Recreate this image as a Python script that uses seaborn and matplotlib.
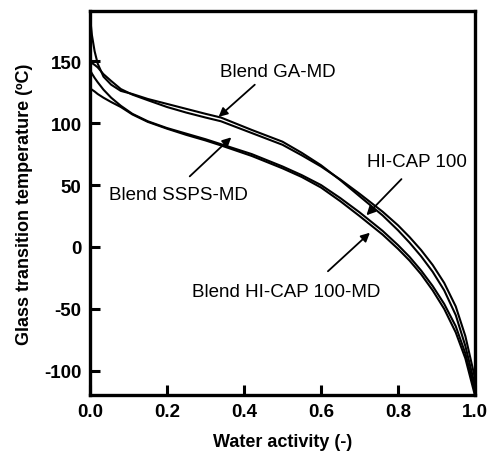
import matplotlib
matplotlib.use("Agg")
import matplotlib.pyplot as plt
import seaborn as sns
import pandas as pd

# Water activity values (shared x grid)
aw = [0, 0.005, 0.012, 0.02, 0.035, 0.055, 0.08, 0.11, 0.15, 0.2, 0.25, 0.3, 0.34,
      0.42, 0.5, 0.55, 0.6, 0.65, 0.7, 0.76, 0.8, 0.83, 0.86, 0.89, 0.92, 0.95, 0.975, 1.0]

# Glass transition temperatures (ºC)
tg_ga_md = [186, 171, 158, 148, 137.5, 131, 126, 123.5, 119.5, 115.5, 111.5, 107.5, 104.5,
            94.5, 85, 76, 66, 54, 41, 25.5, 13.5, 3.5, -7.5, -20, -35, -55, -80, -112]
tg_ssps_md = [149.5, 148.5, 147, 145, 139.5, 134, 127.5, 123, 118.5, 113, 108.5, 104.5, 101.5,
              92, 82.5, 74, 65, 54.5, 43, 28.5, 17.5, 8, -2.5, -14.5, -29, -48, -72, -106]
tg_hicap = [143, 140, 136.5, 133, 127, 120.5, 114, 107.5, 101.5, 96, 91.5, 87, 83,
            75, 65, 58, 50, 39.5, 28, 13, 1.5, -8, -19, -31.5, -46, -64, -86, -116]
tg_hicap_md = [128, 127, 125.5, 123.5, 120.5, 117, 113, 107, 101, 95.5, 90.5, 86, 82,
               73.5, 63.5, 56.5, 48, 37, 25, 10, -1.5, -11, -22, -35, -50, -69, -90, -120]

series_names = ["Blend GA-MD", "Blend SSPS-MD", "HI-CAP 100", "Blend HI-CAP 100-MD"]
series_vals = [tg_ga_md, tg_ssps_md, tg_hicap, tg_hicap_md]

x_ticks = [0.0, 0.2, 0.4, 0.6, 0.8, 1.0]
y_ticks = [-100, -50, 0, 50, 100, 150]

rows = []
for name, vals in zip(series_names, series_vals):
    for a, t in zip(aw, vals):
        rows.append({"aw": a, "tg": t, "series": name})
df = pd.DataFrame(rows)

sns.set_style("ticks")
plt.rcParams["font.family"] = ["Liberation Sans", "DejaVu Sans"]
plt.rcParams["text.color"] = "black"
plt.rcParams["axes.labelcolor"] = "black"
plt.rcParams["xtick.color"] = "black"
plt.rcParams["ytick.color"] = "black"

fig = plt.figure(figsize=(4.88, 4.56), dpi=100)
ax = fig.add_axes([90/488, 1-396/456, (475-90)/488, (396-12)/456])

sns.lineplot(data=df, x="aw", y="tg", hue="series", hue_order=series_names,
             palette=["black"]*4, sort=False, estimator=None, legend=False,
             linewidth=1.5, ax=ax)

ax.set_xlim(0, 1.0)
ax.set_ylim(-119.5, 190.5)
ax.set_xticks(x_ticks)
ax.set_xticklabels([f"{v:.1f}" for v in x_ticks])
ax.set_yticks(y_ticks)
ax.set_yticklabels([str(v) for v in y_ticks])
ax.tick_params(direction="in", length=7, width=2.2, labelsize=13.5, pad=6,
               colors="black")
for lab in ax.get_xticklabels() + ax.get_yticklabels():
    lab.set_fontweight("bold")
for s in ax.spines.values():
    s.set_visible(True)
    s.set_linewidth(2.4)
    s.set_color("black")

ax.set_xlabel("Water activity (-)", fontsize=13, fontweight="bold", labelpad=9, color="black")
ax.set_ylabel("Glass transition temperature (ºC)", fontsize=13, fontweight="bold", labelpad=8,
              color="black")

ap = dict(arrowstyle="-|>", lw=1.3, color="black", mutation_scale=13, shrinkA=0, shrinkB=0)
fs = 13.5
ax.text(0.489, 141.5, "Blend GA-MD", ha="center", va="center", fontsize=fs, color="black")
ax.annotate("", xy=(0.334, 105), xytext=(0.428, 131), arrowprops=dict(ap))
ax.text(0.23, 42, "Blend SSPS-MD", ha="center", va="center", fontsize=fs, color="black")
ax.annotate("", xy=(0.367, 88.5), xytext=(0.259, 57), arrowprops=dict(ap))
ax.text(0.849, 69.4, "HI-CAP 100", ha="center", va="center", fontsize=fs, color="black")
ax.annotate("", xy=(0.718, 25.6), xytext=(0.809, 54.8), arrowprops=dict(ap))
ax.text(0.51, -35.7, "Blend HI-CAP 100-MD", ha="center", va="center", fontsize=fs, color="black")
ax.annotate("", xy=(0.727, 11.5), xytext=(0.618, -19.6), arrowprops=dict(ap))

fig.savefig("out.png", dpi=100)
